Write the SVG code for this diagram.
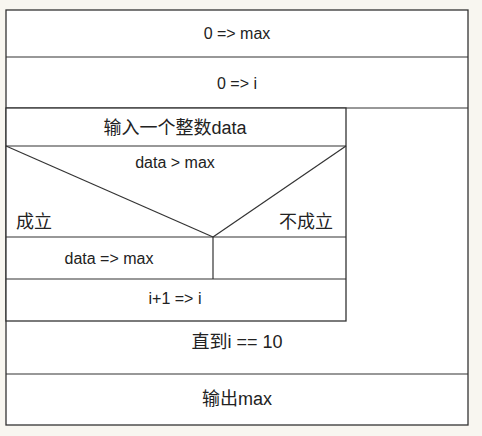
<svg xmlns="http://www.w3.org/2000/svg" width="482" height="436" viewBox="0 0 482 436">
<style>
.box{fill:#fff;stroke:#333;stroke-width:1.3}
.ln{stroke:#333;stroke-width:1.2;fill:none}
text{font-family:"Liberation Sans","Noto Sans CJK SC",sans-serif;fill:#222;text-anchor:middle}
.s{font-size:16px}
.m{font-size:18px}
</style>
<rect width="482" height="436" fill="#f8f6f0"/>
<g id="outer"><rect class="box" x="6" y="10" width="462" height="415"/></g>
<g id="init-max"><line class="ln" x1="6" y1="57" x2="468" y2="57"/><text class="s" x="237" y="39">0 =&gt; max</text></g>
<g id="init-i"><line class="ln" x1="6" y1="108" x2="468" y2="108"/><text class="s" x="237" y="89">0 =&gt; i</text></g>
<g id="loop-body">
<rect class="box" x="6" y="108" width="340" height="213"/>
</g>
<g id="input"><line class="ln" x1="6" y1="146" x2="346" y2="146"/><text class="m" x="175" y="134">输入一个整数data</text></g>
<g id="condition">
<line class="ln" x1="6" y1="146" x2="213" y2="237"/>
<line class="ln" x1="346" y1="146" x2="213" y2="237"/>
<line class="ln" x1="6" y1="237" x2="346" y2="237"/>
<text class="s" x="175" y="168">data &gt; max</text>
<text class="m" x="16" y="228" style="text-anchor:start">成立</text>
<text class="m" x="333" y="228" style="text-anchor:end">不成立</text>
</g>
<g id="true-branch"><line class="ln" x1="213" y1="237" x2="213" y2="279"/><text class="s" x="109" y="264">data =&gt; max</text></g>
<g id="increment"><line class="ln" x1="6" y1="279" x2="346" y2="279"/><text class="s" x="175" y="304">i+1 =&gt; i</text></g>
<g id="until"><text class="m" x="237" y="348">直到i == 10</text></g>
<g id="output"><line class="ln" x1="6" y1="374" x2="468" y2="374"/><text class="m" x="237" y="405">输出max</text></g>
</svg>
